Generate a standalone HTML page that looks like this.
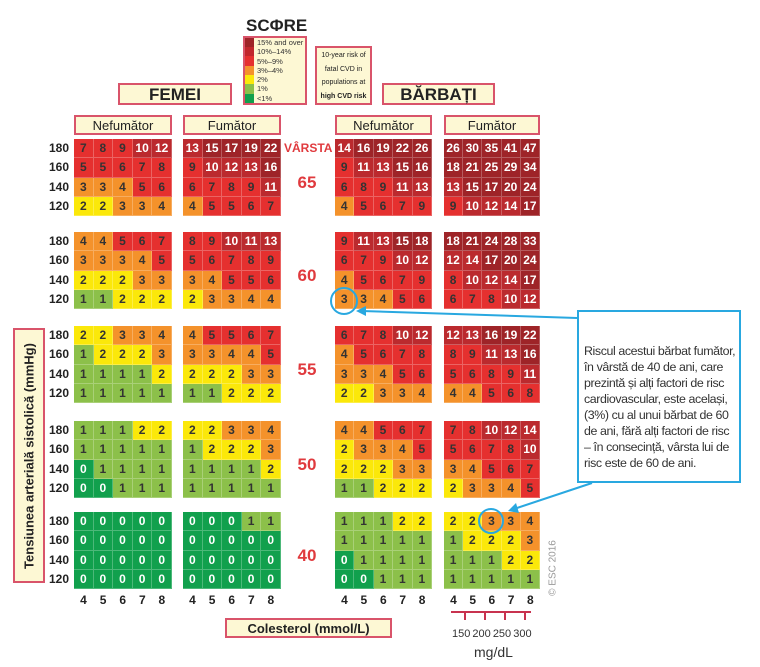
<!DOCTYPE html>
<html><head><meta charset="utf-8">
<style>
body{margin:0;background:#fff;width:760px;height:667px;overflow:hidden;position:relative;font-family:"Liberation Sans","DejaVu Sans",sans-serif;}
.a{position:absolute}
.box{position:absolute;background:#fdf8d4;border:2px solid #d9546a;box-sizing:border-box;text-align:center;color:#222}
.c{position:absolute;box-sizing:border-box;border-right:1px solid rgba(255,255,255,0.25);border-bottom:1px solid rgba(255,255,255,0.25);text-align:center;font-size:12px;font-weight:bold;color:#333}
.rl{position:absolute;width:40px;text-align:right;font-size:12px;color:#222;font-weight:bold}
.cl{position:absolute;width:19px;text-align:center;font-size:12px;color:#222;font-weight:bold}
.age{position:absolute;width:40px;text-align:center;color:#e03a3e;font-weight:bold;font-size:17px}
.lg{font-size:7.5px;color:#333;height:9.3px;line-height:9.3px;white-space:nowrap}
</style></head><body>
<div class="a" style="left:246px;top:16px;width:60px;text-align:center;font-weight:bold;font-size:17px;color:#222">SCΦRE</div>
<div class="box" style="left:243px;top:36px;width:64px;height:69px;text-align:left;">
 <div class="a" style="left:0;top:0;width:9px;height:65px;background:linear-gradient(#9e2428 0 14%,#c1272d 14% 28%,#e5302f 28% 43%,#f4922b 43% 57%,#fbe80a 57% 71%,#8cc04a 71% 86%,#11a04d 86%)"></div>
 <div class="a" style="left:12px;top:0">
 <div class="lg">15% and over</div><div class="lg">10%–14%</div><div class="lg">5%–9%</div><div class="lg">3%–4%</div><div class="lg">2%</div><div class="lg">1%</div><div class="lg">&lt;1%</div></div>
</div>
<div class="box" style="left:315px;top:46px;width:57px;height:59px;font-size:7px;line-height:13.5px;padding-top:1px">10-year risk of<br>fatal CVD in<br>populations at<br><b>high CVD risk</b></div>
<div class="box" style="left:118px;top:83px;width:114px;height:22px;font-size:17px;font-weight:bold;line-height:19px">FEMEI</div>
<div class="box" style="left:382px;top:83px;width:113px;height:22px;font-size:17px;font-weight:bold;line-height:19px">BĂRBAȚI</div>
<div class="box" style="left:74px;top:115px;width:98px;height:20px;font-size:13px;line-height:17px">Nefumător</div>
<div class="box" style="left:183px;top:115px;width:98px;height:20px;font-size:13px;line-height:17px">Fumător</div>
<div class="box" style="left:335px;top:115px;width:97px;height:20px;font-size:13px;line-height:17px">Nefumător</div>
<div class="box" style="left:444px;top:115px;width:96px;height:20px;font-size:13px;line-height:17px">Fumător</div>
<div class="a" style="left:284px;top:141px;color:#e03a3e;font-weight:bold;font-size:12px">VÂRSTA</div>
<div class="box" style="left:13px;top:328px;width:32px;height:255px;"><div class="a" style="left:50%;top:50%;transform:translate(-50%,-50%) rotate(-90deg);white-space:nowrap;font-weight:bold;font-size:13px">Tensiunea arterială sistolică (mmHg)</div></div>
<div class="box" style="left:225px;top:618px;width:167px;height:20px;font-size:13px;font-weight:bold;line-height:17px">Colesterol (mmol/L)</div>
<div class="a" style="left:553px;top:568px;transform:translate(-50%,-50%) rotate(-90deg);white-space:nowrap;font-size:10px;color:#999">© ESC 2016</div>
<div class="a" style="left:451px;top:611px;width:80px;height:2px;background:#c8324f"></div>
<div class="a" style="left:464px;top:612px;width:2px;height:8px;background:#c8324f"></div>
<div class="a" style="left:484px;top:612px;width:2px;height:8px;background:#c8324f"></div>
<div class="a" style="left:504px;top:612px;width:2px;height:8px;background:#c8324f"></div>
<div class="a" style="left:524px;top:612px;width:2px;height:8px;background:#c8324f"></div>
<div class="a" style="left:452px;top:628px;font-size:11px;color:#333;word-spacing:-1px">150 200 250 300</div>
<div class="a" style="left:474px;top:644px;font-size:14px;color:#333">mg/dL</div>
<div class="a" style="left:577px;top:310px;width:164px;height:173px;border:2px solid #29a8e0;box-sizing:border-box;background:#fff;font-size:12.4px;line-height:16px;color:#333;padding:31px 0 0 5px;text-align:left;white-space:nowrap;letter-spacing:-0.4px">Riscul acestui bărbat fumător,<br>în vârstă de 40 de ani, care<br>prezintă și alți factori de risc<br>cardiovascular, este același,<br>(3%) cu al unui bărbat de 60<br>de ani, fără alți factori de risc<br>– în consecință, vârsta lui de<br>risc este de 60 de ani.</div>
<div id="g"></div>
<svg class="a" style="left:0;top:0" width="760" height="667">
<line x1="577" y1="318" x2="362" y2="311" stroke="#29a8e0" stroke-width="2"/>
<polygon points="356,311 366,306 366,316" fill="#29a8e0"/>
<circle cx="344" cy="301" r="13" fill="none" stroke="#29a8e0" stroke-width="2"/>
<line x1="592" y1="483" x2="514" y2="509" stroke="#29a8e0" stroke-width="2"/>
<polygon points="508,511 516,503 519,513" fill="#29a8e0"/>
<circle cx="491" cy="521" r="12" fill="none" stroke="#29a8e0" stroke-width="2"/>
</svg>
<script>
var D=[
[[7,8,9,10,12,5,5,6,7,8,3,3,4,5,6,2,2,3,3,4],[4,4,5,6,7,3,3,3,4,5,2,2,2,3,3,1,1,2,2,2],[2,2,3,3,4,1,2,2,2,3,1,1,1,1,2,1,1,1,1,1],[1,1,1,2,2,1,1,1,1,1,0,1,1,1,1,0,0,1,1,1],[0,0,0,0,0,0,0,0,0,0,0,0,0,0,0,0,0,0,0,0]],
[[13,15,17,19,22,9,10,12,13,16,6,7,8,9,11,4,5,5,6,7],[8,9,10,11,13,5,6,7,8,9,3,4,5,5,6,2,3,3,4,4],[4,5,5,6,7,3,3,4,4,5,2,2,2,3,3,1,1,2,2,2],[2,2,3,3,4,1,2,2,2,3,1,1,1,1,2,1,1,1,1,1],[0,0,0,1,1,0,0,0,0,0,0,0,0,0,0,0,0,0,0,0]],
[[14,16,19,22,26,9,11,13,15,16,6,8,9,11,13,4,5,6,7,9],[9,11,13,15,18,6,7,9,10,12,4,5,6,7,9,3,3,4,5,6],[6,7,8,10,12,4,5,6,7,8,3,3,4,5,6,2,2,3,3,4],[4,4,5,6,7,2,3,3,4,5,2,2,2,3,3,1,1,2,2,2],[1,1,1,2,2,1,1,1,1,1,0,1,1,1,1,0,0,1,1,1]],
[[26,30,35,41,47,18,21,25,29,34,13,15,17,20,24,9,10,12,14,17],[18,21,24,28,33,12,14,17,20,24,8,10,12,14,17,6,7,8,10,12],[12,13,16,19,22,8,9,11,13,16,5,6,8,9,11,4,4,5,6,8],[7,8,10,12,14,5,6,7,8,10,3,4,5,6,7,2,3,3,4,5],[2,2,3,3,4,1,2,2,2,3,1,1,1,2,2,1,1,1,1,1]]];
var PX=[74,183,335,444],PW=[98,98,97,96],TOP=[139,232,326,421,512],AG=[65,60,55,50,40],RH=19.3;
function col(v){if(v==0)return['#11a04d','#fff'];if(v==1)return['#8cc04a','#333'];if(v==2)return['#fbe80a','#333'];if(v<5)return['#f4922b','#333'];if(v<10)return['#e5302f','#333'];if(v<15)return['#bb2a2e','#fff'];return['#9e2428','#fff'];}
var h='';
for(var p=0;p<4;p++){var cw=PW[p]/5;for(var a=0;a<5;a++)for(var i=0;i<20;i++){var r=Math.floor(i/5),c=i%5,v=D[p][a][i],k=col(v);
h+='<div class="c" style="left:'+(PX[p]+c*cw)+'px;top:'+(TOP[a]+r*RH)+'px;width:'+cw+'px;height:'+RH+'px;line-height:'+RH+'px;background:'+k[0]+';color:'+k[1]+'">'+v+'</div>';}
for(var c=0;c<5;c++)h+='<div class="cl" style="left:'+(PX[p]+c*cw)+'px;top:593px">'+(c+4)+'</div>';}
for(var a=0;a<5;a++){var bp=['180','160','140','120'];for(var r=0;r<4;r++)h+='<div class="rl" style="left:29px;top:'+(TOP[a]+r*RH+2)+'px">'+bp[r]+'</div>';
h+='<div class="age" style="left:287px;top:'+(TOP[a]+34)+'px">'+AG[a]+'</div>';}
document.getElementById('g').innerHTML=h;
</script>
</body></html>
